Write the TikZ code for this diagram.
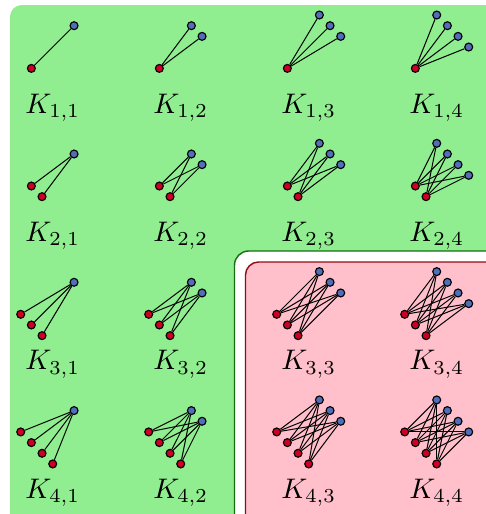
\documentclass[tikz,border=0pt]{standalone}
\pgfdeclarelayer{bg}
\pgfdeclarelayer{edges}
\pgfsetlayers{bg,edges,main}
\definecolor{vred}{RGB}{205,0,35}
\definecolor{vblue}{RGB}{80,110,185}
\definecolor{lgreen}{RGB}{144,238,144}
\definecolor{lpink}{RGB}{255,192,203}
\definecolor{dgreen}{RGB}{20,110,20}
\definecolor{dred}{RGB}{150,10,20}
\tikzset{
  rv/.style={circle,draw=black,fill=vred,line width=0.4pt,inner sep=0pt,minimum size=2.8pt},
  bv/.style={circle,draw=black,fill=vblue,line width=0.4pt,inner sep=0pt,minimum size=2.8pt},
  edge/.style={draw=black,line width=0.35pt},
  lab/.style={anchor=base,inner sep=0pt}
}
\begin{document}
\begin{tikzpicture}[x=0.3533pt,y=-0.3533pt]
\useasboundingbox (0,0) rectangle (486,514);
\begin{pgfonlayer}{bg}
  \clip (0,0) rectangle (486,514);
  \fill[lgreen,rounded corners=4.2pt] (10,5) rectangle (540,570);
  \draw[fill=white,draw=dgreen,line width=0.5pt,rounded corners=5pt] (234.5,251) rectangle (540,570);
  \draw[fill=lpink,draw=dred,line width=0.5pt,rounded corners=4.6pt] (245.5,262) rectangle (540,570);
\end{pgfonlayer}
\foreach \mm in {1,...,4}{
  \foreach \nn in {1,...,4}{
    \pgfmathsetmacro\X{20.7+128*(\nn-1)}
    \pgfmathsetmacro\Y{57.7+128.3*(\mm-1)}
    \pgfmathtruncatemacro\rx{1-floor((\mm-1)/2)}
    \pgfmathtruncatemacro\ry{1-floor(\mm/2)}
    \pgfmathtruncatemacro\bx{5-floor(\nn/2)}
    \pgfmathtruncatemacro\by{-3-floor((\nn-1)/2)}
    \foreach \i in {1,...,\mm}{
      \node[rv] (r-\mm-\nn-\i) at ({\X+(\rx+\i-1)*10.67},{\Y+(\ry+\i-1)*10.67}) {};
    }
    \foreach \j in {1,...,\nn}{
      \node[bv] (b-\mm-\nn-\j) at ({\X+(\bx+\j-1)*10.67},{\Y+(\by+\j-1)*10.67}) {};
    }
    \begin{pgfonlayer}{edges}
      \foreach \i in {1,...,\mm}{
        \foreach \j in {1,...,\nn}{
          \draw[edge] (r-\mm-\nn-\i) -- (b-\mm-\nn-\j);
        }
      }
    \end{pgfonlayer}
    \node[lab] (k-\mm-\nn) at ({\X+32},{\Y+55.5}) {$K_{\mm,\nn}$};
  }
}
\end{tikzpicture}
\end{document}
